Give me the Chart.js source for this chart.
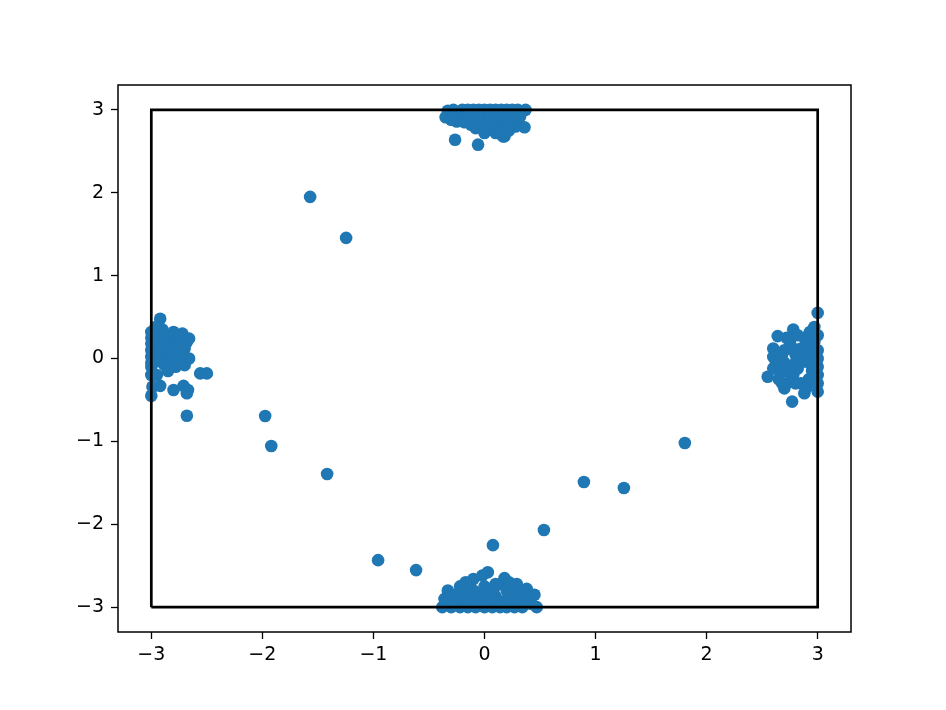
<!DOCTYPE html>
<html lang="en">
<head>
  <meta charset="UTF-8" />
  <title>Scatter in a box</title>
  <script src="https://cdn.jsdelivr.net/npm/chart.js"></script>
  <style>
    body { margin: 0; background: #fff; }
    #wrap { width: 946px; height: 710px; }
  </style>
</head>
<body>
  <div id="wrap"><canvas id="chart" width="946" height="710"></canvas></div>
  <script>
    // scattered points
    const topX = [-0.33, -0.28, -0.2, -0.15, -0.1, -0.05, 0, 0.05, 0.1, 0.15, 0.2, 0.25, 0.3, 0.37,
      -0.35, -0.3, -0.22, -0.15, -0.1, -0.03, 0.03, 0.08, 0.13, 0.2, 0.27, 0.3,
      -0.25, -0.12, -0.08, 0.0, 0.06, 0.1, 0.18, 0.22, 0.28, 0.36, -0.265, -0.058, 0.166,
      0.0, 0.05, 0.12, 0.25, 0.32, -0.18, -0.3, 0.15, 0.22];
    const topY = [2.99, 3, 3, 3, 3, 3, 3, 3, 3, 3, 3, 3, 3, 3,
      2.91, 2.93, 2.9, 2.92, 2.88, 2.9, 2.85, 2.93, 2.88, 2.9, 2.92, 2.85,
      2.86, 2.82, 2.78, 2.8, 2.76, 2.72, 2.68, 2.75, 2.8, 2.79, 2.64, 2.58, 2.68,
      2.72, 2.85, 2.8, 2.85, 2.92, 2.85, 2.88, 2.75, 2.82];

    const bottomX = [-0.38, -0.3, -0.22, -0.15, -0.08, 0, 0.07, 0.14, 0.2, 0.27, 0.34, 0.47,
      -0.36, -0.28, -0.2, -0.12, -0.05, 0.02, 0.1, 0.17, 0.24, 0.32, 0.4, 0.45,
      -0.33, -0.22, -0.15, -0.1, 0.0, 0.08, 0.15, 0.18, 0.25, 0.29, 0.38, 0.03, -0.02,
      -0.25, -0.1, 0.05, 0.12, 0.2, 0.35, 0.42, -0.05, 0.1, -0.3, 0.22, 0.3, -0.17];
    const bottomY = [-3, -3, -3, -3, -3, -3, -3, -3, -3, -3, -3, -3,
      -2.9, -2.93, -2.88, -2.92, -2.86, -2.9, -2.87, -2.93, -2.88, -2.88, -2.92, -2.85,
      -2.8, -2.75, -2.8, -2.66, -2.75, -2.8, -2.72, -2.65, -2.78, -2.72, -2.78, -2.58, -2.62,
      -2.85, -2.8, -2.85, -2.95, -2.8, -2.95, -2.96, -2.95, -2.72, -2.85, -2.7, -2.82, -2.7];

    const leftX = [-3, -3, -3, -3, -3, -3, -3, -2.98, -2.92, -2.95, -2.93, -2.9, -2.95, -2.88,
      -2.85, -2.85, -2.82, -2.88, -2.8, -2.78, -2.72, -2.75, -2.72, -2.68, -2.66, -2.66, -2.78, -2.85,
      -2.99, -3, -2.92, -2.8, -2.71, -2.67, -2.68, -2.56, -2.5, -2.68,
      -2.96, -2.9, -2.8, -2.75, -2.7, -2.78, -2.7, -2.9, -2.95, -2.82, -3, -2.95, -2.75, -2.88];
    const leftY = [0.32, 0.25, 0.18, 0.1, 0.02, -0.05, -0.1, 0.28, 0.48, 0.2, 0.12, 0.05, -0.03, 0.3,
      0.22, 0.1, 0.0, -0.08, 0.15, 0.25, 0.3, 0.08, -0.02, 0.2, 0.24, 0.0, -0.1, -0.15,
      -0.34, -0.45, -0.33, -0.38, -0.33, -0.38, -0.42, -0.18, -0.18, -0.69,
      0.38, 0.35, 0.32, 0.18, 0.12, 0.05, -0.08, -0.05, 0.0, -0.05, -0.2, -0.2, -0.05, 0.15];

    const rightX = [3, 2.97, 3, 2.78, 2.64, 2.6, 2.6, 2.62, 2.55, 2.66, 2.7, 2.77, 2.88, 3,
      2.7, 2.75, 2.8, 2.85, 2.9, 2.95, 3, 3, 3, 3, 3, 2.92, 2.85, 2.78, 2.7, 2.88, 2.95, 2.82, 2.68, 2.75, 2.93,
      2.65, 2.72, 2.8, 2.9, 2.95, 2.85, 2.92, 2.78, 2.72, 2.82, 2.6, 2.68, 2.88, 2.97, 2.8, 2.75, 2.9];
    const rightY = [0.55, 0.38, 0.28, 0.35, 0.27, 0.12, 0.02, -0.08, -0.22, -0.15, -0.36, -0.52, -0.42, -0.4,
      0.1, 0.2, 0.05, -0.05, 0.15, 0.05, 0.1, 0.0, -0.1, -0.2, -0.3, -0.25, -0.3, -0.2, -0.05, 0.25, -0.15, -0.12, 0.05, -0.28, 0.32,
      -0.25, -0.15, -0.3, -0.35, -0.28, 0.12, -0.05, 0.12, 0.25, 0.28, -0.12, -0.3, 0.0, 0.2, -0.05, -0.1, 0.08];

    const strayX = [-1.57, -1.246, -1.975, -1.92, -1.417, -0.958, -0.616, 0.076, 0.535, 0.895, 1.255, 1.804];
    const strayY = [1.95, 1.455, -0.694, -1.056, -1.394, -2.433, -2.553, -2.252, -2.07, -1.491, -1.563, -1.02];

    // the square outline
    const boxX = [-3, -3, 3, 3, -3];
    const boxY = [-3, 3, 3, -3, -3];

    const xTicks = [-3, -2, -1, 0, 1, 2, 3];
    const yTicks = [-3, -2, -1, 0, 1, 2, 3];

    const allX = [...topX, ...bottomX, ...leftX, ...rightX, ...strayX];
    const allY = [...topY, ...bottomY, ...leftY, ...rightY, ...strayY];
    const points = allX.map((x, i) => ({ x: x, y: allY[i] }));
    const box = boxX.map((x, i) => ({ x: x, y: boxY[i] }));

    const fmt = v => (v < 0 ? '\u2212' + Math.abs(v) : String(v));

    const frame = {
      id: 'frame',
      afterDraw(chart) {
        const a = chart.chartArea, c = chart.ctx;
        c.save();
        c.strokeStyle = '#000';
        c.lineWidth = 1.5;
        c.strokeRect(a.left, a.top, a.right - a.left, a.bottom - a.top);
        c.restore();
      }
    };

    const axisCommon = {
      type: 'linear',
      min: -3.3,
      max: 3.3,
      border: { display: false },
      grid: { drawOnChartArea: false, drawTicks: true, tickLength: 7, color: '#000', tickWidth: 1.3 },
      ticks: { color: '#000', font: { family: 'DejaVu Sans', size: 19 }, padding: 5, callback: fmt }
    };

    new Chart(document.getElementById('chart').getContext('2d'), {
      type: 'scatter',
      data: {
        datasets: [
          {
            data: box,
            showLine: true,
            borderColor: '#000',
            borderWidth: 2.7,
            pointRadius: 0,
            fill: false
          },
          {
            data: points,
            backgroundColor: '#1f77b4',
            borderWidth: 0,
            pointRadius: 6.3,
            pointHoverRadius: 6.3
          }
        ]
      },
      options: {
        responsive: false,
        animation: false,
        layout: { padding: { left: 0, top: 85, right: 95, bottom: 0 } },
        plugins: { legend: { display: false }, tooltip: { enabled: false } },
        scales: {
          x: Object.assign({}, axisCommon, {
            position: 'bottom',
            afterBuildTicks: s => { s.ticks = xTicks.map(v => ({ value: v })); },
            afterFit: s => { s.height = 78; }
          }),
          y: Object.assign({}, axisCommon, {
            position: 'left',
            ticks: Object.assign({}, axisCommon.ticks, { padding: 7 }),
            afterBuildTicks: s => { s.ticks = yTicks.map(v => ({ value: v })); },
            afterFit: s => { s.width = 118; }
          })
        }
      },
      plugins: [frame]
    });
  </script>
</body>
</html>
